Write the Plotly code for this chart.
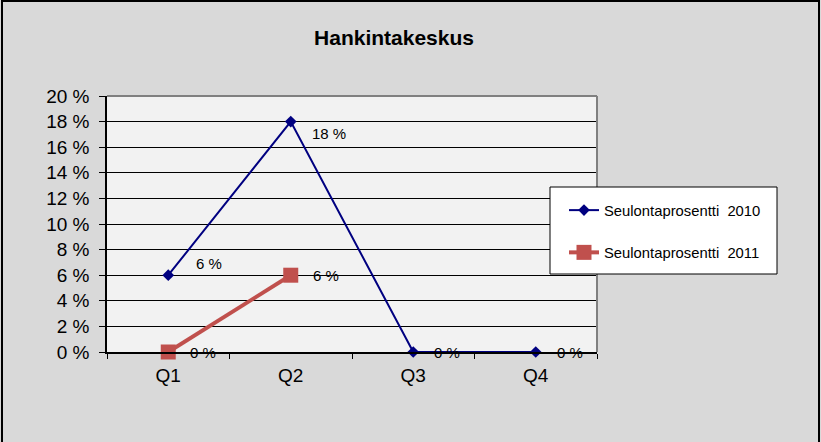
import plotly.graph_objects as go

# data
quarters = ["Q1", "Q2", "Q3", "Q4"]
pct_2010 = [6, 18, 0, 0]
pct_2011 = [0, 6]
name_2010 = "Seulontaprosentti  2010"
name_2011 = "Seulontaprosentti  2011"
title_text = "Hankintakeskus"

# label offsets (px) for the data labels
shift_2010 = [(26, 12), (19, -12), (19, 0), (19, 0)]
shift_2011 = [(20, 0), (20, 0)]

FONT = "Arial, Liberation Sans, sans-serif"

# plot area in pixels
L, R, T, B = 107, 597, 96, 352
W, H = R - L, B - T


def px_x(p):
    return (p - L) / W


def px_y(p):
    return (B - p) / H


fig = go.Figure()

fig.add_trace(go.Scatter(
    x=quarters, y=pct_2010, name=name_2010, mode="lines+markers",
    line=dict(color="#000080", width=2),
    marker=dict(symbol="diamond", size=9, color="#000080"),
    legendgroup="a", cliponaxis=False,
))
fig.add_trace(go.Scatter(
    x=quarters[:len(pct_2011)], y=pct_2011, name=name_2011, mode="lines+markers",
    line=dict(color="#C0504D", width=4),
    marker=dict(symbol="square", size=15, color="#C0504D"),
    legendgroup="b", cliponaxis=False,
))

annotations = []
for vals, shifts in ((pct_2010, shift_2010), (pct_2011, shift_2011)):
    for q, v, (dx, dy) in zip(quarters, vals, shifts):
        annotations.append(dict(
            x=q, y=v, text=f"{v} %", showarrow=False,
            xanchor="left", yanchor="middle", xshift=dx, yshift=dy,
            font=dict(family=FONT, size=15, color="black"),
        ))

shapes = [
    # outer chart frame
    dict(type="rect", xref="paper", yref="paper",
         x0=px_x(2), x1=px_x(819), y0=px_y(470), y1=px_y(1),
         line=dict(color="black", width=2), layer="below"),
    # grey plot border top / right
    dict(type="line", xref="paper", yref="paper",
         x0=0, x1=1, y0=1, y1=1, line=dict(color="#808080", width=2), layer="above"),
    dict(type="line", xref="paper", yref="paper",
         x0=1, x1=1, y0=0, y1=1, line=dict(color="#808080", width=2), layer="above"),
    # legend box
    dict(type="rect", xref="paper", yref="paper",
         x0=px_x(550), x1=px_x(777), y0=px_y(274), y1=px_y(187),
         fillcolor="white", line=dict(color="black", width=1), layer="above"),
]

fig.update_layout(
    width=821, height=442,
    margin=dict(l=L, r=821 - R, t=T, b=442 - B),
    paper_bgcolor="#D9D9D9",
    plot_bgcolor="#F2F2F2",
    font=dict(family=FONT, color="black"),
    title=dict(text=title_text, x=394 / 821, y=1 - 38 / 442,
               xanchor="center", yanchor="middle",
               font=dict(family=FONT, size=21, weight="bold", color="black")),
    showlegend=True,
    legend=dict(x=px_x(564), y=px_y(194), xanchor="left", yanchor="top",
                bgcolor="rgba(0,0,0,0)", borderwidth=0,
                font=dict(family=FONT, size=14.8, color="black"),
                tracegroupgap=20),
    shapes=shapes,
    annotations=annotations,
)

fig.update_xaxes(
    type="category", range=[-0.5, 3.5], tickson="boundaries",
    ticks="outside", ticklen=5, tickcolor="black",
    showline=True, linecolor="black", linewidth=1.5,
    showgrid=False, zeroline=False,
    tickfont=dict(family=FONT, size=19, color="black"),
    ticklabelstandoff=5,
)
fig.update_yaxes(
    range=[0, 20], dtick=2, ticksuffix=" %",
    ticks="outside", ticklen=6, tickcolor="black",
    showline=True, linecolor="black", linewidth=1.5,
    showgrid=True, gridcolor="black", gridwidth=1, zeroline=False,
    tickfont=dict(family=FONT, size=19, color="black"),
    ticklabelstandoff=6,
)

fig.write_html("out.html", config={"displayModeBar": False},
               post_script="document.body.style.margin='0px';")
